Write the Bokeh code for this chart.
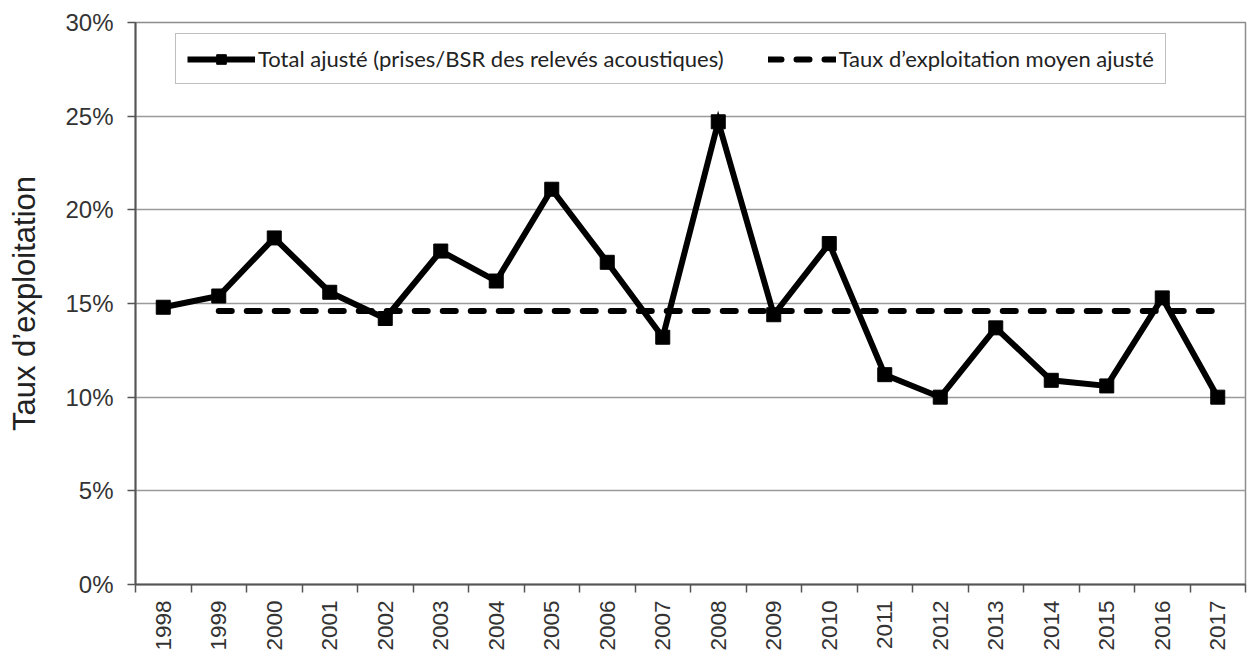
import math
from bokeh.plotting import figure
from bokeh.models import (FixedTicker, NumeralTickFormatter, Range1d, Legend, LegendItem)
from bokeh.embed import file_html
from bokeh.resources import INLINE

years = list(range(1998, 2018))
rates = [0.148, 0.154, 0.185, 0.156, 0.142, 0.178, 0.162, 0.211, 0.172, 0.132,
         0.247, 0.144, 0.182, 0.112, 0.100, 0.137, 0.109, 0.106, 0.153, 0.100]
mean_years = [1999, 2017]
mean_rate = [0.146, 0.146]
y_ticks = [0.0, 0.05, 0.10, 0.15, 0.20, 0.25, 0.30]

series_label = "Total ajusté (prises/BSR des relevés acoustiques)"
mean_label = "Taux d’exploitation moyen ajusté"
y_title = "Taux d’exploitation"

p = figure(width=1248, height=653, output_backend="svg", toolbar_location=None,
           x_range=Range1d(1997.5, 2017.5), y_range=Range1d(0, 0.30),
           min_border_left=135, min_border_right=3, min_border_top=22, min_border_bottom=69)

p.outline_line_color = "#8c8c8c"
p.outline_line_width = 1.5

# grid
p.xgrid.visible = False
p.ygrid.grid_line_color = "#9a9a9a"
p.ygrid.grid_line_width = 1.5

# x axis: ticks between categories, labels at centres
xa = p.xaxis[0]
xa.ticker = FixedTicker(ticks=years, minor_ticks=[y - 0.5 for y in years] + [2017.5])
xa.major_tick_out = 0
xa.major_tick_in = 0
xa.minor_tick_out = 8
xa.minor_tick_in = 0
xa.minor_tick_line_color = "#555555"
xa.minor_tick_line_width = 1.5
xa.axis_line_color = "#555555"
xa.axis_line_width = 2
xa.major_label_orientation = math.pi / 2
xa.major_label_text_font = "Liberation Sans"
xa.major_label_text_font_size = "22.5px"
xa.major_label_text_color = "#333333"
xa.major_label_standoff = 8

ya = p.yaxis[0]
ya.ticker = FixedTicker(ticks=y_ticks)
ya.formatter = NumeralTickFormatter(format="0%")
ya.major_tick_out = 8
ya.major_tick_in = 0
ya.minor_tick_out = 0
ya.minor_tick_in = 0
ya.major_tick_line_color = "#555555"
ya.major_tick_line_width = 1.5
ya.axis_line_color = "#555555"
ya.axis_line_width = 2
ya.major_label_text_font = "Liberation Sans"
ya.major_label_text_font_size = "24px"
ya.major_label_text_color = "#333333"
ya.major_label_standoff = 14
ya.axis_label = y_title
ya.axis_label_text_font = "Liberation Sans"
ya.axis_label_text_font_size = "31px"
ya.axis_label_text_font_style = "normal"
ya.axis_label_text_color = "#222222"
ya.axis_label_standoff = 20

r_mean = p.line(mean_years, mean_rate, line_color="black", line_width=6,
                line_dash="13 15", line_cap="round")
r_line = p.line(years, rates, line_color="black", line_width=6, line_join="miter")
r_pts = p.scatter(years, rates, marker="square", size=14, fill_color="black",
                  line_color="black")

legend = Legend(items=[LegendItem(label=series_label, renderers=[r_line, r_pts]),
                       LegendItem(label=mean_label, renderers=[r_mean])],
                orientation="horizontal", location=(40, 500))
legend.label_text_font = "Lato"
legend.label_text_font_size = "22px"
legend.label_text_color = "#222222"
legend.glyph_width = 68
legend.glyph_height = 24
legend.label_height = 24
legend.label_standoff = 3
legend.spacing = 44
legend.padding = 11
legend.border_line_color = "#7f7f7f"
legend.border_line_width = 1.5
legend.background_fill_color = "white"
legend.background_fill_alpha = 1
p.add_layout(legend)

open("out.html", "w").write(file_html(p, INLINE))
